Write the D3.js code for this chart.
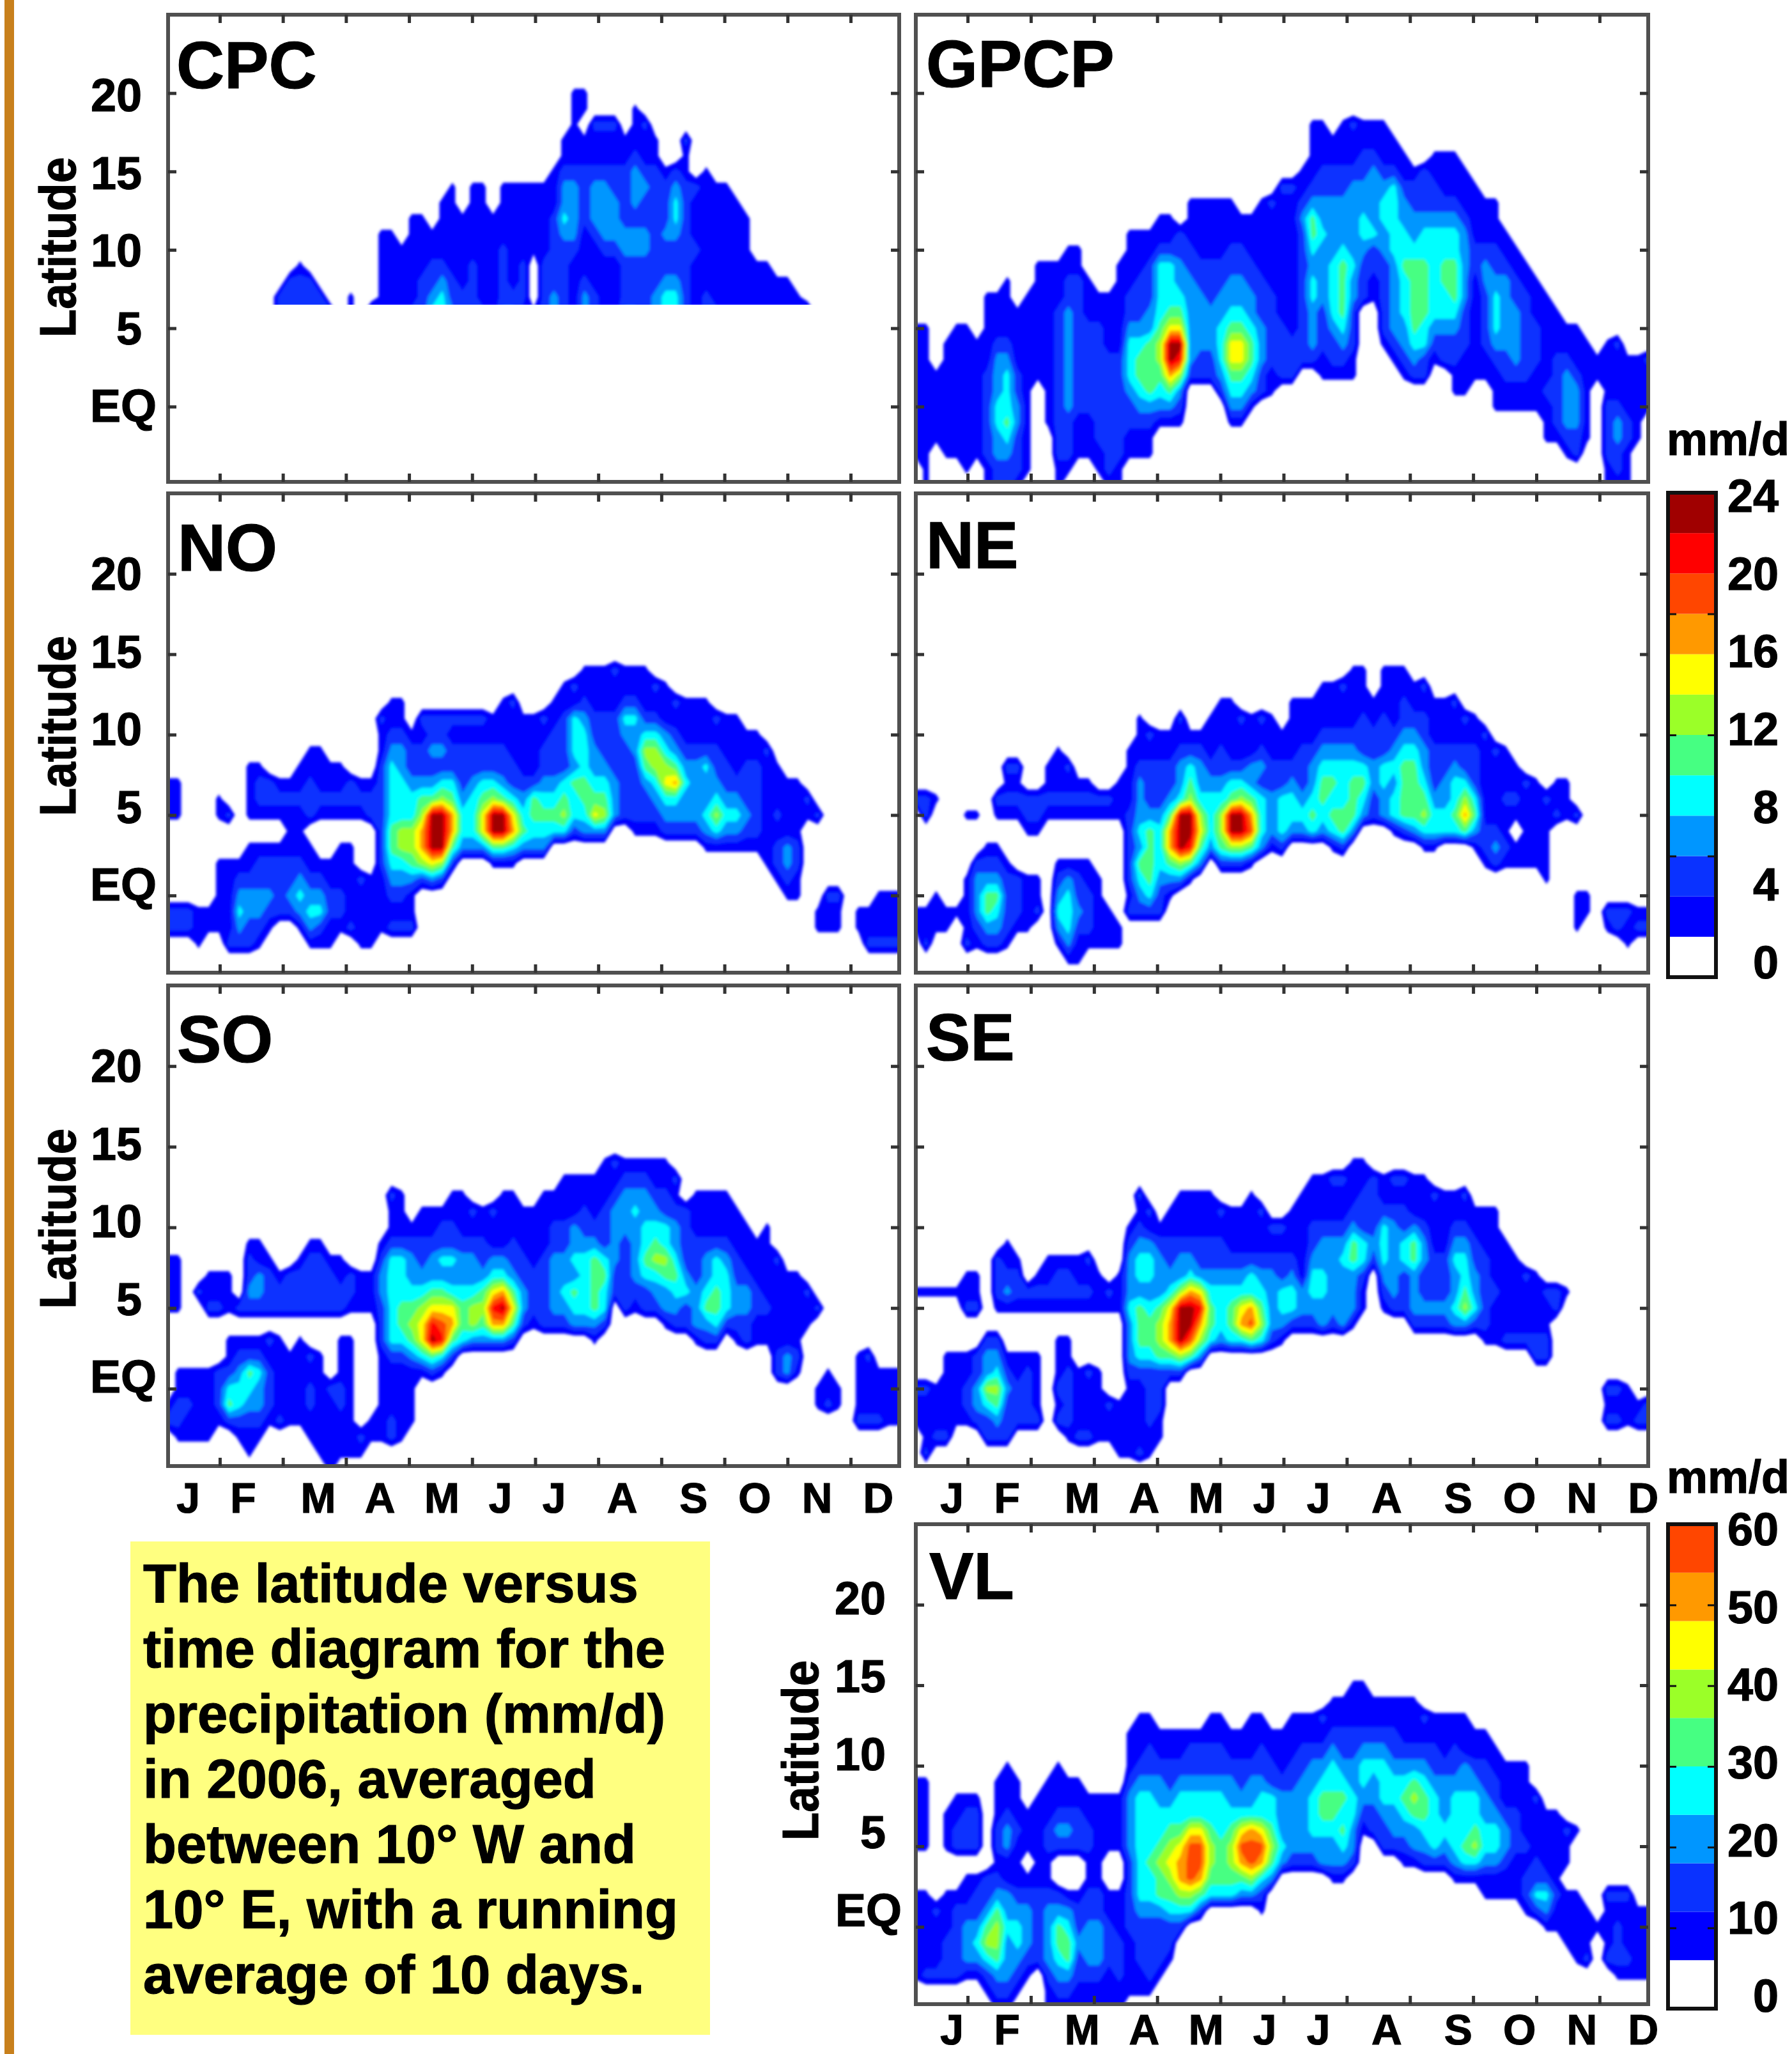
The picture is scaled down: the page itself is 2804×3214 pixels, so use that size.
<!DOCTYPE html>
<html>
<head>
<meta charset="utf-8">
<script src="https://cdn.jsdelivr.net/npm/d3@7"></script>
<style>
  html, body { margin: 0; padding: 0; background: #fff; }
  text { font-family: "Liberation Sans", Arial, sans-serif; font-weight: bold; fill: #000; stroke: #000; stroke-width: 1.2px; }
</style>
</head>
<body>
<div id="chart"></div>
<script>
// tick labels and categories
var monthNames = ["J","F","M","A","M","J","J","A","S","O","N","D"];
var monthLabelPos = [0.50,1.37,2.56,3.54,4.52,5.45,6.30,7.38,8.51,9.48,10.47,11.44];
var monthTicks = [1,2,3,4,5,6,7,8,9,10,11];
var latTicks = [20,15,10,5,0];
var latLabels = ["20","15","10","5","EQ"];
var legendLabelsA = [0,4,8,12,16,20,24];
var legendLabelsB = [0,10,20,30,40,50,60];
var bandColors = ["#ffffff","#0000ff","#0a32ff","#0096ff","#00ffff","#46ff82","#9bff28","#ffff00","#ff9900","#ff4600","#ff0000","#a00000"];
var captionLines = ["The latitude versus","time diagram for the","precipitation (mm/d)","in 2006, averaged","between 10\u00b0 W and","10\u00b0 E, with a running","average of 10 days."];

// Values. One entry per time step (73 across the year),
// each "topLat:levels" going down one degree per character, level = colour band.
var cpcColumns = [
"","","","","","","","","","",
"","7:22","8:222","9:1222","8:222","7:22","6:2","","7:11","",
"6:3","11:111111","11:111111","10:11111","12:1111112","12:1111222","11:112234","13:11112344","14:111111223","12:1111122",
"14:111112222","14:111111112","12:1111111","14:111122223","14:111111123","14:111112221","14:11111 6:1","14:111112222","15:1112222233","17:112334322222",
"20:111112333321111","20:11 17:112222111233","18:2112333211122","18:2112333321111","18:2112233321111","17:112222332223","19:11123332332223","18:2112322332222","17:112222222233","15:1222322344",
"15:2344322344","17:211222222222","14:211121111","15:1111111122","14:111111112","14:111111111","13:11111111","12:1111111","9:1111","9:1111",
"8:111","8:111","7:11","6:3","","","","","","",
"","",""];

var gpcpColumns = [
"5:111111111","5:11111111111","2:11111","4:11111111","5:111111111","5:1111111111","4:11111111","7:1111122222211","7:1112333443322","8:11112344454322",
"6:111122332221","7:111111111111","9:11111111","9:11111111111","9:111222222222211","10:112233333332221","10:11222222222111","8:111222222111","7:112222222211","7:1111222222221",
"9:111111222222211","11:111122344432211","11:111222345543211","11:112223355553211","12:11244445665431","12:11244457bb8531","11:2233457ba6321","13:111223333332","13:111122333322","13:111122233322",
"13:1111223344432","13:111223345775431","12:11223345775431","12:1112233455431","13:1111122233322","13:2111112222211","14:2111111112222","14:2111111111222","15:1123222222222","18:1111235543443332",
"18:11122334333322211","17:1122333344443221","18:11122333455554321","18:21123333343322211","18:112233443222","18:112333342211","18:111234433222221","17:112444443333321","16:112334454443321","15:12233455555432",
"15:22234455554422","16:11223444444321","16:11123445544322","16:1112344555432211","15:111233333222111","14:1111221111111","13:111233222211","13:11122344432111","11:112333332211","10:11223333211",
"9:1122222211","8:111222111","7:1111112111","6:111222221","5:112333321","5:111233322","4:1111111","3:11","4:1111222211","4:2111233221",
"3:111122111","3:111111","3:2111"];

var noColumns = [
"7:111 -1:22","7:111 -1:22","-1:22","-1:111","-1:11","6:11 2:11111","5:2 2:111112","2:123432","8:1111 3:1123322","8:1221 3:1223321",
"7:221 3:122321","7:121 3:12222","7:121 4:112232","8:1121 4:1123431","9:11222 3:1123431","9:11121 2:123421","8:1121 2:112211","8:1121 3:111221","7:221 3:111112","7:121 1:21111",
"7:122 1:11111","11:21122222221111","12:112344445543212","12:112334446643212","10:1223446653112","11:21223568862","11:223235bbb73","11:223246bbb62","11:2122458852","11:212223443",
"11:212234443","11:212245773","11:112246bb51","12:1112235bb51","12:21112247841","11:111123453","11:111125543","11:212234543","12:112223454","13:1122224564",
"13:2144435442","14:11234445543","14:11122334573","14:11122234563","14:2112222333","14:1124322222","14:11243322221","14:11124653221","13:2124664321","13:1113467432",
"12:212358432","12:111234332","12:111233332","12:1112433431","11:212234641","11:111223431","11:111123431","10:11222321","10:11222221","9:21111111",
"8:11121221","7:11113321","7:11112211","6:21","5:2 -1:11","0:211","0:211","","-1:11","-1:112",
"0:1112","0:1112","0:1112"];

var neColumns = [
"6:2 -1:11","6:22 -1:112","6:1 0:111","-1:11","-1:1","5:1 1:11112","5:1 2:233321","3:1235532","6:21 3:1235432","8:2121 2:122221",
"8:2121 1:2221","6:221 1:1111","6:221 1:112","8:1121","9:11121 2:123431","8:2121 2:1344431","7:121 2:1223211","7:121 2:112221","6:21 1:11111","6:21 -1:111",
"7:111 -2:11","9:11112222212","11:1112333435432","10:212223555542","10:112223444322","10:11223588531","11:212334bbb63","10:12456bba51","10:123346753","11:111234443",
"12:11122346652","12:1111245bb62","11:211246bb62","11:1113358951","11:212324443","11:111223331","10:11224442","12:111123443","12:111222343","12:111233454",
"13:1112345543","13:11123454541","13:21123444552","14:11112345553","14:1112224543","12:11223322","14:1112224433","14:11112343441","14:11223455552","13:1123455553",
"13:21223345641","12:1112223441","12:111223344","12:211234454","11:21224685","11:112224531","10:211111221","9:21111232","9:11121121","8:1121 3:11",
"7:211111","7:111111","6:211111","7:112","7:111","5:2 0:111","0:11","","-1:21","-1:22",
"-1:211","-1:12","-1:12"];

var soColumns = [
"8:1111 -1:12","8:1111 1:11221","1:11211","6:2 1:11111","7:112 1:11111","7:112 1:2221","7:111 3:112452","5:2 3:1234421","9:12232 3:12543211","9:11332 3:1243321",
"8:1222 3:212221","7:122 3:111112","7:222 2:11111","8:1222 3:111111","9:12222 2:212211","9:12222 2:1111111","8:1222 0:211111","8:1122 3:11122111","7:221 3:11111111","7:111 -3:21",
"7:111 -2:11","9:1233222111111","12:2112444444211122","12:1112444554211111","10:1233456531111","11:11223467741","11:1123357ab52","11:12243579a41","12:11224347852","12:1112334554",
"11:212334663","11:112235653","11:211347a83","12:1111348b83","12:1112235752","11:11122332","11:11112221","12:111122222","12:112233332","13:1112233432",
"13:1113343543","13:1122344443","13:11123555531","14:11122245442","14:212333322","14:1233322222","14:1234333321","14:1233445422","14:1123456432","14:11224465331",
"13:2123345432","11:22223422","12:1112223331","12:1112334532","12:1112445542","12:111234442","11:111223321","10:11123322","9:1112211","10:11111211",
"8:21111122","7:1111133","7:1111121","6:211","5:2 0:11","1:112","0:11","","2:11112","2:21112",
"1:1112","1:1111","1:1111"];

var seColumns = [
"6:1 0:211","6:1 0:21112","6:1 0:1112","6:1 2:111112","6:1 2:11111","7:112 2:11221","7:112 2:22332","3:2336422","8:2221 3:2346532","9:11231 2:123222",
"8:1221 2:11222","6:21 2:12222","7:121 2:11112","8:1121","8:1221 3:111212","8:1221 3:1122221","8:1121 1:11112","8:2121 1:21112","7:111 1:11111","6:21 -1:211",
"7:111 -1:1111","10:123334333211111","12:21234435554211112","11:2134434554222211","10:12333566522211","11:11223478852","12:1112336bbb62","12:1112348bb95","12:1112237a863","12:1112234554",
"11:212234443","11:111234554","11:111234784","12:1111244895","11:211234564","10:21233332","10:21224431","11:11123442","12:111111332","13:1112234432",
"13:1112334433","13:2112333332","13:2112343333","14:11123553331","14:1122244211","13:222232","13:112444321","13:212333332","13:212244222","13:1113553332",
"13:1112332232","12:211122232","12:111122232","12:112343343","12:212344563","11:11223342","11:111222221","11:111112111","9:1111112","8:111112",
"7:21112","7:111122","6:21122","6:22","6:1","","","","0:212","0:212",
"0:111","-1:12","-1:22"];

var vlColumns = [
"9:11111 2:111111","9:11111 2:111112","1:21112","7:111 2:111222","8:1122 2:122222","8:1222 3:1123331","8:1222 3:1223431","3:22356421","9:111221235665321","10:1112331133433321",
"9:11121112344321","7:111 3:1233321","8:11111122222","9:111221123333211","10:111232 2:23554321","9:11232 2:13455321","9:11222 2:12232211","8:11221122333211","8:1111 4:1122333211","8:1111 2:11222111",
"8:1111 2:11122211","12:11123333222221111","13:111234444444322211","13:112234444544322221","12:1123344565532221","12:112234567654221","12:1123445788642","12:122344799964","12:122344799852","13:112234456654",
"13:112234445554","12:11233456654","12:11223479853","13:111233489963","13:1122344798421","12:1122445653","12:111233343","13:1112233332","13:1122333332","13:1123344432",
"13:2123455433","14:112344554331","14:112234545431","15:111223344332","15:1112344321","14:112343322","14:1123444322","14:1122344332","14:11123454321","14:11123565331",
"13:2123455432","13:1122344442","13:1112333432","13:11223444431","13:11133444541","12:1123445641","12:11223344311","11:1122344311","10:111233211","10:111222111",
"10:1111121221","8:21112242","7:11112431","7:11111211","6:211 2:1111","6:1 2:11111","1:1112","0:1","2:21112","2:212221",
"2:211121","1:11111","1:11111"];

var width = 2804, height = 3214;
var latTop = 21, latBottom = -5;   // rows held in each grid
var nCols = 73, nRows = latTop - latBottom + 1;

var svg = d3.select("#chart").append("svg")
    .attr("width", width)
    .attr("height", height)
    .style("display", "block");

// the upscaled source image is soft, keep a little of that
var defs = svg.append("defs");
defs.append("filter").attr("id", "soft")
    .attr("x", "-2%").attr("y", "-2%").attr("width", "104%").attr("height", "104%")
    .append("feGaussianBlur").attr("stdDeviation", 2.2);

// orange strip of the slide
svg.append("rect").attr("x", 7).attr("y", 0).attr("width", 15).attr("height", height).attr("fill", "#c8801c");

// caption box
svg.append("rect").attr("x", 204).attr("y", 2412).attr("width", 907).attr("height", 772).attr("fill", "#ffff80");
svg.selectAll("text.caption")
    .data(captionLines)
    .enter()
    .append("text")
    .attr("class", "caption")
    .attr("x", 224)
    .attr("y", function(d, i) { return 2507 + i * 102; })
    .style("font-size", "85px")
    .text(function(d) { return d; });

function toGrid(columns, step) {
    var grid = new Array(nCols * nRows).fill(0);
    columns.forEach(function(col, c) {
        col.split(" ").filter(Boolean).forEach(function(seg) {
            var parts = seg.split(":");
            parts[1].split("").forEach(function(ch, k) {
                var r = latTop - (+parts[0] - k);
                if (r >= 0 && r < nRows) {
                    grid[r * nCols + c] = (parseInt(ch, 36) + 0.4) * step;
                }
            });
        });
    });
    return grid;
}

function drawPanel(p) {
    var x = d3.scaleLinear().domain([0.18, 11.77]).range([p.left, p.right]);
    var y = d3.scaleLinear().domain([-4.8, 25]).range([p.bottom, p.top]);
    var xCell = d3.scaleLinear().domain([0.5, nCols - 0.5]).range(x.range());
    var yCell = d3.scaleLinear().domain([0.5, nRows - 0.5]).range([y(latTop), y(latBottom)]);
    var clipBottom = p.minLat === undefined ? p.bottom : y(p.minLat);

    var clipId = "clip-" + p.name;
    defs.append("clipPath").attr("id", clipId)
        .append("rect")
        .attr("x", p.left).attr("y", p.top)
        .attr("width", p.right - p.left).attr("height", clipBottom - p.top);

    var step = p.step;
    var thresholds = d3.range(1, bandColors.length).map(function(l) { return l * step; });
    var contours = d3.contours().size([nCols, nRows]).thresholds(thresholds)(toGrid(p.columns, step));
    var path = d3.geoPath(d3.geoTransform({
        point: function(px, py) { this.stream.point(xCell(px), yCell(py)); }
    }));

    svg.append("g").attr("clip-path", "url(#" + clipId + ")")
        .append("g").attr("filter", "url(#soft)")
        .selectAll("path")
        .data(contours)
        .enter()
        .append("path")
        .attr("d", path)
        .attr("fill", function(d, i) { return bandColors[i + 1]; });

    // frame and inward ticks on all four sides
    svg.append("rect")
        .attr("x", p.left).attr("y", p.top)
        .attr("width", p.right - p.left).attr("height", p.bottom - p.top)
        .attr("fill", "none").attr("stroke", "#505050").attr("stroke-width", 6);

    var axes = [
        {g: d3.axisBottom(x).tickValues(monthTicks), at: [0, p.bottom]},
        {g: d3.axisTop(x).tickValues(monthTicks), at: [0, p.top]},
        {g: d3.axisLeft(y).tickValues(latTicks), at: [p.left, 0]},
        {g: d3.axisRight(y).tickValues(latTicks), at: [p.right, 0]}
    ];
    axes.forEach(function(a) {
        var g = svg.append("g")
            .attr("transform", "translate(" + a.at[0] + "," + a.at[1] + ")")
            .call(a.g.tickSize(-13).tickFormat(""));
        g.select(".domain").remove();
        g.selectAll("line").attr("stroke", "#333").attr("stroke-width", 5);
    });

    svg.append("text")
        .attr("x", p.titleX).attr("y", p.titleY)
        .style("font-size", "104px")
        .text(p.name);

    if (p.showLat) {
        var labelY = d3.scaleLinear().domain([20, 0]).range(p.labelRange);
        svg.selectAll("text.lat-" + p.name)
            .data(latLabels)
            .enter()
            .append("text")
            .attr("class", "lat-" + p.name)
            .attr("x", function(d) { return d === "EQ" ? p.left - p.eqOffset : p.left - p.numOffset; })
            .attr("y", function(d, i) { return labelY(latTicks[i]) + 26; })
            .attr("text-anchor", function(d) { return d === "EQ" ? "start" : "end"; })
            .style("font-size", "72px")
            .text(function(d) { return d; });

        svg.append("text")
            .attr("transform", "translate(" + p.latX + "," + p.latY + ") rotate(-90)")
            .attr("text-anchor", "middle")
            .attr("textLength", 282)
            .attr("lengthAdjust", "spacingAndGlyphs")
            .style("font-size", "80px")
            .text("Latitude");
    }

    if (p.monthY) {
        svg.selectAll("text.mon-" + p.name)
            .data(monthNames)
            .enter()
            .append("text")
            .attr("class", "mon-" + p.name)
            .attr("x", function(d, i) { return x(monthLabelPos[i]) + p.monthShift; })
            .attr("y", p.monthY)
            .attr("text-anchor", "middle")
            .style("font-size", "66px")
            .text(function(d) { return d; });
    }
}

function drawLegend(o) {
    var band = d3.scaleLinear().domain([0, o.max]).range([o.bottom, o.top]);
    var n = o.bands;
    var size = o.max / n;
    svg.selectAll("rect.band-" + o.id)
        .data(d3.range(n))
        .enter()
        .append("rect")
        .attr("class", "band-" + o.id)
        .attr("x", 2610).attr("width", 75)
        .attr("y", function(i) { return band((i + 1) * size); })
        .attr("height", function(i) { return band(i * size) - band((i + 1) * size); })
        .attr("fill", function(i) { return bandColors[i]; });

    svg.append("rect")
        .attr("x", 2610).attr("y", o.top).attr("width", 75).attr("height", o.bottom - o.top)
        .attr("fill", "none").attr("stroke", "#111").attr("stroke-width", 6);

    [d3.axisLeft(band).tickValues(o.ticks), d3.axisRight(band).tickValues(o.ticks)].forEach(function(a, i) {
        var g = svg.append("g")
            .attr("transform", "translate(" + (i === 0 ? 2610 : 2685) + ",0)")
            .call(a.tickSize(-13).tickFormat(""));
        g.select(".domain").remove();
        g.selectAll("line").attr("stroke", "#111").attr("stroke-width", 3);
    });

    var labelY = d3.scaleLinear().domain([0, o.max]).range(o.labelRange);
    svg.selectAll("text.leg-" + o.id)
        .data(o.labels)
        .enter()
        .append("text")
        .attr("class", "leg-" + o.id)
        .attr("x", 2783)
        .attr("y", function(d) { return labelY(d) + 26; })
        .attr("text-anchor", "end")
        .style("font-size", "72px")
        .text(function(d) { return d; });

    svg.append("text")
        .attr("x", 2608).attr("y", o.unitY)
        .style("font-size", "72px")
        .text("mm/d");
}

var leftX = {left: 263, right: 1407};
var rightX = {left: 1433, right: 2579};

drawPanel({name: "CPC", columns: cpcColumns, step: 2, minLat: 6.5, left: leftX.left, right: leftX.right, top: 23, bottom: 754,
    titleX: 276, titleY: 138, showLat: true, labelRange: [148, 634], numOffset: 41, eqOffset: 122, latX: 118, latY: 387});
drawPanel({name: "GPCP", columns: gpcpColumns, step: 2, left: rightX.left, right: rightX.right, top: 23, bottom: 754,
    titleX: 1449, titleY: 136});
drawPanel({name: "NO", columns: noColumns, step: 2, left: leftX.left, right: leftX.right, top: 772, bottom: 1522,
    titleX: 278, titleY: 893, showLat: true, labelRange: [897, 1383], numOffset: 41, eqOffset: 122, latX: 118, latY: 1136});
drawPanel({name: "NE", columns: neColumns, step: 2, left: rightX.left, right: rightX.right, top: 772, bottom: 1522,
    titleX: 1449, titleY: 889});
drawPanel({name: "SO", columns: soColumns, step: 2, left: leftX.left, right: leftX.right, top: 1542, bottom: 2294,
    titleX: 277, titleY: 1662, showLat: true, labelRange: [1667, 2153], numOffset: 41, eqOffset: 122, latX: 118, latY: 1907,
    monthY: 2367, monthShift: 0});
drawPanel({name: "SE", columns: seColumns, step: 2, left: rightX.left, right: rightX.right, top: 1542, bottom: 2294,
    titleX: 1449, titleY: 1659, monthY: 2367, monthShift: 25});
drawPanel({name: "VL", columns: vlColumns, step: 6, left: rightX.left, right: rightX.right, top: 2385, bottom: 3136,
    titleX: 1454, titleY: 2502, showLat: true, labelRange: [2500, 2988], numOffset: 47, eqOffset: 126, latX: 1280, latY: 2739,
    monthY: 3199, monthShift: 25});

drawLegend({id: "a", max: 24, bands: 12, top: 771, bottom: 1529, ticks: [6,12,18], labels: legendLabelsA, labelRange: [1505, 775], unitY: 712});
drawLegend({id: "b", max: 60, bands: 10, top: 2385, bottom: 3143, ticks: [10,20,30,40,50], labels: legendLabelsB, labelRange: [3122, 2392], unitY: 2336});
</script>
</body>
</html>
